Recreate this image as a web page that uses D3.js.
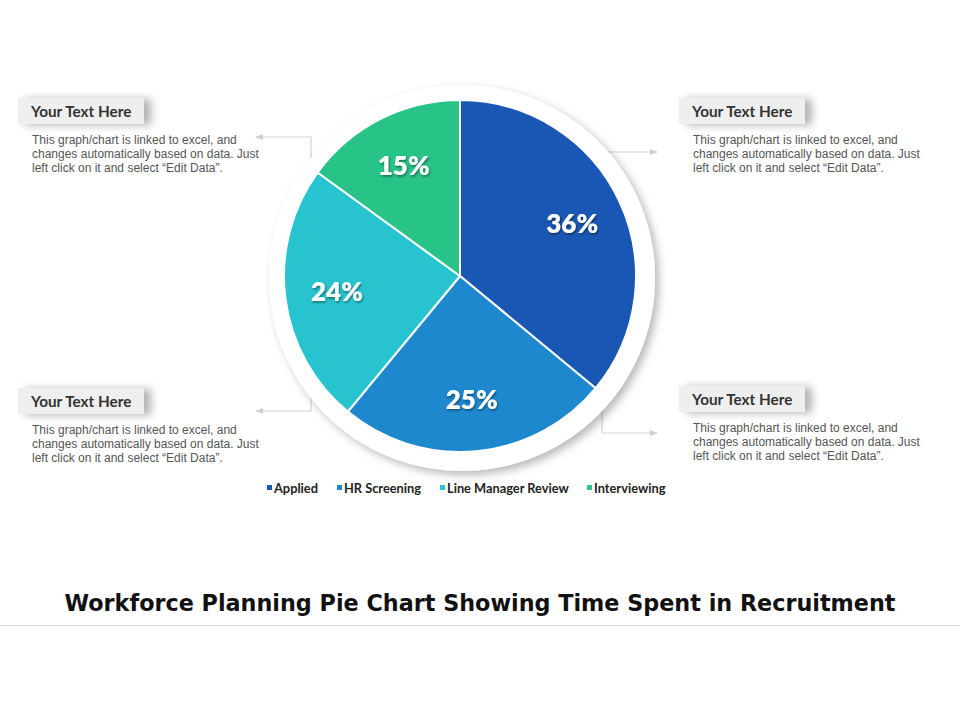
<!DOCTYPE html>
<html>
<head>
<meta charset="utf-8">
<script src="https://cdn.jsdelivr.net/npm/d3@7"></script>
<style>
  html, body { margin: 0; padding: 0; background: #fff; }
  svg { display: block; }
</style>
</head>
<body>
<svg id="chart" width="960" height="720"></svg>
<script>
// ---- data ----
const categories = ["Applied", "HR Screening", "Line Manager Review", "Interviewing"];
const values = [36, 25, 24, 15];
const colors = ["#1A57B5", "#1E88CE", "#27C4CF", "#28C487"];
const boxTitles = ["Your Text Here", "Your Text Here", "Your Text Here", "Your Text Here"];
const boxLines = [
  "This graph/chart is linked to excel,  and",
  "changes automatically based on data. Just",
  "left click on it and select \u201cEdit Data\u201d."
];
const title = "Workforce Planning Pie Chart Showing Time Spent in Recruitment";

// ---- layout ----
const svg = d3.select("#chart");
const W = 960, H = 720;
const cx = 460, cy = 276, R = 176;

const defs = svg.append("defs");
const ringShadow = defs.append("filter").attr("id", "ringShadow")
  .attr("x", "-20%").attr("y", "-20%").attr("width", "140%").attr("height", "140%");
ringShadow.append("feDropShadow").attr("dx", 4).attr("dy", 4).attr("stdDeviation", 4)
  .attr("flood-color", "#000").attr("flood-opacity", 0.28);
const boxShadow = defs.append("filter").attr("id", "boxShadow")
  .attr("x", "-20%").attr("y", "-50%").attr("width", "150%").attr("height", "200%");
boxShadow.append("feDropShadow").attr("dx", 7).attr("dy", 1).attr("stdDeviation", 4)
  .attr("flood-color", "#000").attr("flood-opacity", 0.3);
const txtShadow = defs.append("filter").attr("id", "txtShadow")
  .attr("x", "-20%").attr("y", "-30%").attr("width", "140%").attr("height", "160%");
txtShadow.append("feDropShadow").attr("dx", 1).attr("dy", 1.5).attr("stdDeviation", 1)
  .attr("flood-color", "#000").attr("flood-opacity", 0.45);
const arrow = defs.append("marker").attr("id", "arrow")
  .attr("viewBox", "0 0 10 10").attr("refX", 9).attr("refY", 5)
  .attr("markerWidth", 8).attr("markerHeight", 8).attr("orient", "auto-start-reverse")
  .attr("markerUnits", "userSpaceOnUse");
arrow.append("path").attr("d", "M0,1 L10,5 L0,9 Z").attr("fill", "#cfcfcf");

// connectors (drawn under the ring)
const connectors = [
  [[322, 161], [311, 161], [311, 137], [256, 137]],
  [[602, 170], [602, 152], [657, 152]],
  [[322, 385], [311, 385], [311, 411], [256, 411]],
  [[585, 408], [602, 408], [602, 433], [657, 433]]
];
const line = d3.line();
svg.append("g").selectAll("path").data(connectors).join("path")
  .attr("d", d => line(d))
  .attr("fill", "none").attr("stroke", "#d4d4d4").attr("stroke-width", 1.2)
  .attr("marker-end", "url(#arrow)");

// ring
svg.append("circle").attr("cx", cx + 2).attr("cy", cy + 2).attr("r", R + 17)
  .attr("fill", "#fff").attr("filter", "url(#ringShadow)");

// pie
const pie = d3.pie().sort(null).value(d => d.v);
const data = categories.map((c, i) => ({ c, v: values[i], col: colors[i] }));
const arcs = pie(data);
const arcGen = d3.arc().innerRadius(0).outerRadius(R);
const labelArc = d3.arc().innerRadius(124).outerRadius(124);

const g = svg.append("g").attr("transform", `translate(${cx},${cy})`);
g.selectAll("path").data(arcs).join("path")
  .attr("d", arcGen)
  .attr("fill", d => d.data.col)
  .attr("stroke", "#fff").attr("stroke-width", 2).attr("stroke-linejoin", "round");

g.selectAll("text").data(arcs).join("text")
  .attr("transform", d => `translate(${labelArc.centroid(d)})`)
  .attr("text-anchor", "middle").attr("dy", "0.36em")
  .attr("font-family", "Lato, 'DejaVu Sans', sans-serif")
  .attr("font-weight", 800).attr("font-size", 26)
  .attr("fill", "#fff").attr("filter", "url(#txtShadow)")
  .text(d => d.data.v + "%");

// text boxes
const boxes = [
  { x: 18, y: 98 },
  { x: 679, y: 98 },
  { x: 18, y: 388 },
  { x: 679, y: 386 }
];
boxes.forEach((b, i) => {
  const gb = svg.append("g").attr("transform", `translate(${b.x},${b.y})`);
  gb.append("rect").attr("width", 126).attr("height", 26)
    .attr("fill", "#efefef").attr("filter", "url(#boxShadow)");
  gb.append("text").attr("x", 13).attr("y", 18.5)
    .attr("font-family", "Lato, 'DejaVu Sans', sans-serif")
    .attr("font-weight", 700).attr("font-size", 15.3).attr("fill", "#333")
    .text(boxTitles[i]);
  gb.append("g").selectAll("text").data(boxLines).join("text")
    .attr("x", 14).attr("y", (d, j) => 45.5 + j * 14)
    .attr("font-family", "'Liberation Sans', Arial, sans-serif")
    .attr("font-size", 12).attr("fill", "#555")
    .text(d => d);
});

// legend
const legendX = [267, 337, 440, 587];
const lg = svg.append("g").attr("transform", "translate(0,488)");
const li = lg.selectAll("g").data(data).join("g")
  .attr("transform", (d, i) => `translate(${legendX[i]},0)`);
li.append("rect").attr("x", 0).attr("y", -3).attr("width", 5).attr("height", 5)
  .attr("fill", d => d.col);
li.append("text").attr("x", 7).attr("y", 4.5)
  .attr("font-family", "Lato, 'DejaVu Sans', sans-serif")
  .attr("font-weight", 700).attr("font-size", 12.8).attr("fill", "#222")
  .text(d => d.c);

// title
svg.append("text").attr("x", W / 2).attr("y", 611)
  .attr("text-anchor", "middle")
  .attr("font-family", "'DejaVu Sans', sans-serif")
  .attr("font-weight", 700).attr("font-size", 22.3).attr("fill", "#111")
  .text(title);
svg.append("line").attr("x1", 0).attr("x2", W).attr("y1", 625.5).attr("y2", 625.5)
  .attr("stroke", "#dedede").attr("stroke-width", 1);
</script>
</body>
</html>
